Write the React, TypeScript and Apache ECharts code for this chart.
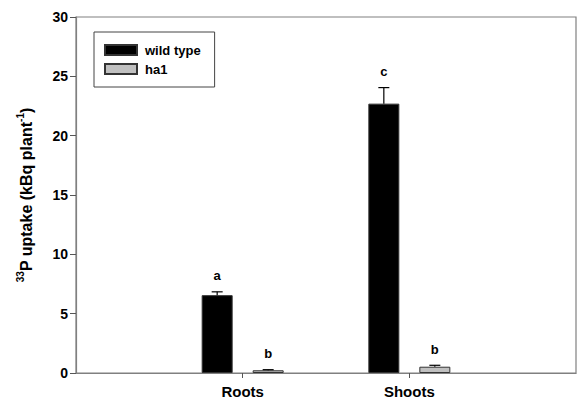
import React, { useEffect, useRef } from "react";
import * as echarts from "echarts";

const categories = ["", "Roots", "Shoots", ""];
const wildType = ["-", 6.56, 22.7, "-"];
const wildTypeErr = ["-", 0.28, 1.35, "-"];
const ha1 = ["-", 0.23, 0.53, "-"];
const ha1Err = ["-", 0.05, 0.12, "-"];
const wildTypeLetters = ["", "a", "c", ""];
const ha1Letters = ["", "b", "b", ""];
const yTicks = [0, 5, 10, 15, 20, 25, 30];

const FONT = "'Liberation Sans', Arial, sans-serif";
const BAR_W = 31;
const GAP = 20;
const OFF = (BAR_W + GAP) / 2;

function errData(means: any[], errs: any[]) {
  const out: any[] = [];
  means.forEach((m, i) => {
    if (typeof m === "number") out.push([i, m + (errs[i] as number), m]);
  });
  return out;
}

function errSeries(name: string, means: any[], errs: any[], letters: string[], offset: number) {
  const data = errData(means, errs);
  return {
    type: "custom",
    name: name + "-err",
    xAxisIndex: 0,
    yAxisIndex: 0,
    silent: true,
    z: 5,
    data,
    renderItem: (params: any, api: any) => {
      const idx = api.value(0);
      const top = api.coord([idx, api.value(1)]);
      const base = api.coord([idx, api.value(2)]);
      const x = top[0] + offset;
      return {
        type: "group",
        children: [
          { type: "line", shape: { x1: x, y1: base[1], x2: x, y2: top[1] }, style: { stroke: "#000", lineWidth: 1.2 } },
          { type: "line", shape: { x1: x - 5.5, y1: top[1], x2: x + 5.5, y2: top[1] }, style: { stroke: "#000", lineWidth: 1.2 } },
          {
            type: "text",
            x: x,
            y: top[1] - 16,
            style: {
              text: letters[idx],
              fill: "#000",
              fontFamily: FONT,
              fontWeight: "bold",
              fontSize: 13,
              align: "center",
              verticalAlign: "middle",
            },
          },
        ],
      };
    },
  };
}

export default function App() {
  const ref = useRef<HTMLDivElement>(null);
  useEffect(() => {
    if (!ref.current) return;
    const chart = echarts.init(ref.current, undefined, { renderer: "svg" });
    chart.setOption({
      animation: false,
      backgroundColor: "#fff",
      grid: { left: 76, right: -3, top: 17, bottom: 31, show: true, borderColor: "#808080", borderWidth: 1.2, backgroundColor: "transparent" },
      legend: {
        left: 94,
        top: 32,
        orient: "vertical",
        data: ["wild type", "ha1"],
        icon: "rect",
        itemWidth: 32,
        itemHeight: 10,
        itemGap: 5,
        padding: [11, 14, 11, 10],
        borderColor: "#444",
        borderWidth: 1,
        selectedMode: false,
        textStyle: { fontFamily: FONT, fontWeight: "bold", fontSize: 13, color: "#000", lineHeight: 14, padding: [0, 0, 0, 3] },
      },
      xAxis: [
        {
          type: "category",
          data: categories,
          boundaryGap: false,
          axisLine: { lineStyle: { color: "#808080", width: 1.2 } },
          axisTick: { length: 5, interval: (i: number) => i === 1 || i === 2, lineStyle: { color: "#555" } },
          axisLabel: { fontFamily: FONT, fontWeight: "bold", fontSize: 15, color: "#000", margin: 11, interval: 0 },
          splitLine: { show: false },
        },
      ],
      yAxis: [
        {
          type: "value",
          min: 0,
          max: 30,
          interval: 5,
          axisLine: { show: true, lineStyle: { color: "#808080", width: 1.2 } },
          axisTick: { show: true, length: 6, lineStyle: { color: "#555" } },
          axisLabel: { fontFamily: FONT, fontWeight: "bold", fontSize: 14, color: "#000", margin: 8, formatter: (v: number) => (yTicks.includes(v) ? String(v) : "") },
          splitLine: { show: false },
          name: "{sup|33}{b|P uptake (kBq plant}{sup|-1}{b|)}",
          nameLocation: "middle",
          nameGap: 42,
          nameRotate: 90,
          nameTextStyle: {
            color: "#000",
            fontFamily: FONT,
            fontWeight: "bold",
            fontSize: 16,
            rich: {
              b: { fontFamily: FONT, fontWeight: "bold", fontSize: 16, color: "#000", lineHeight: 19, verticalAlign: "bottom" },
              sup: { fontFamily: FONT, fontWeight: "bold", fontSize: 10, color: "#000", lineHeight: 19, verticalAlign: "top" },
            },
          },
        },
      ],
      series: [
        {
          name: "wild type",
          type: "bar",
          data: wildType,
          barWidth: BAR_W,
          barGap: (GAP / BAR_W) * 100 + "%",
          itemStyle: { color: "#000", borderColor: "#333", borderWidth: 1 },
        },
        {
          name: "ha1",
          type: "bar",
          data: ha1,
          barWidth: BAR_W,
          itemStyle: { color: "#c0c0c0", borderColor: "#333", borderWidth: 1 },
        },
        errSeries("wild type", wildType, wildTypeErr, wildTypeLetters, -OFF),
        errSeries("ha1", ha1, ha1Err, ha1Letters, OFF),
      ],
    });
    return () => chart.dispose();
  }, []);
  return <div ref={ref} style={{ width: 579, height: 404, position: "absolute", left: 0, top: 0 }} />;
}
